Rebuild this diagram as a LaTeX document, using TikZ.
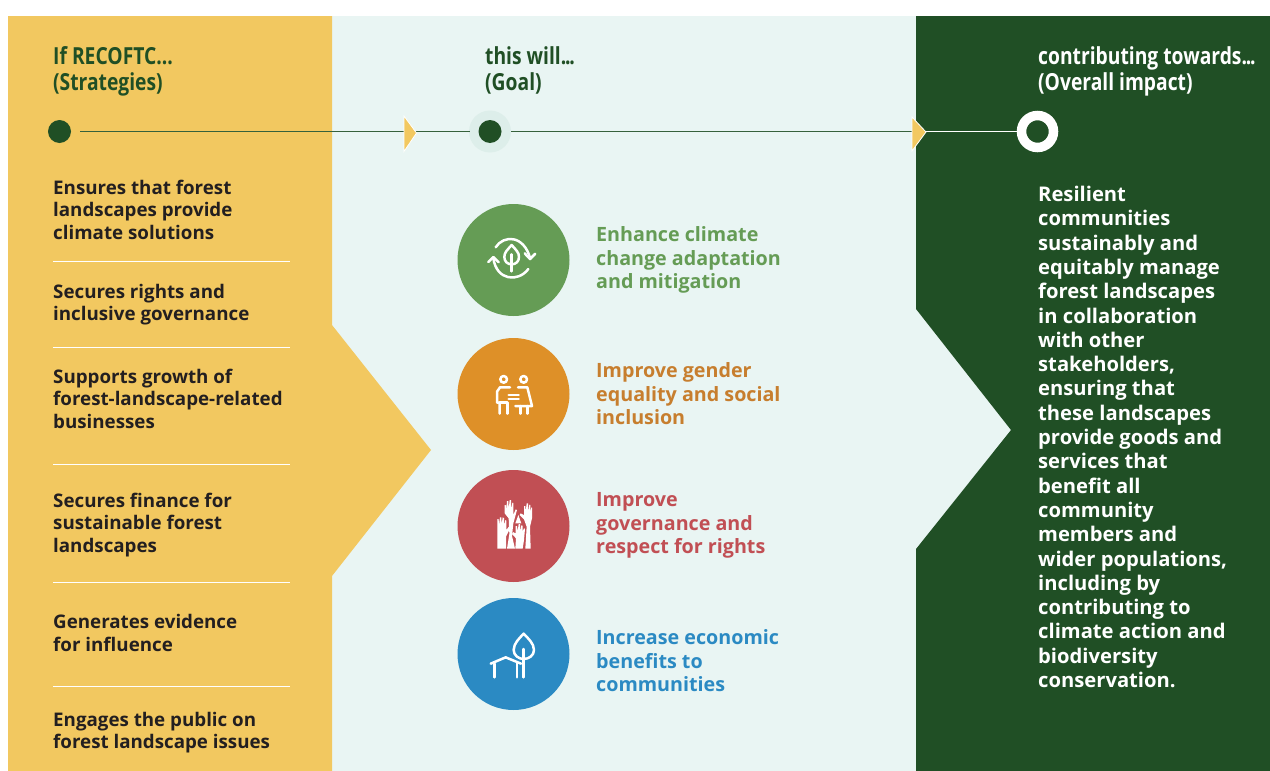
\documentclass[tikz,border=0pt]{standalone}
\usepackage{fontspec}
\setmainfont{Open Sans}
\newfontfamily\condfont{Open Sans}[FakeStretch=0.82]
\usetikzlibrary{calc}
\definecolor{yel}{HTML}{F2C860}
\definecolor{dkg}{HTML}{204F25}
\definecolor{mint}{HTML}{E9F5F3}
\definecolor{halo}{HTML}{DDEEEA}
\definecolor{ink}{HTML}{231F20}
\definecolor{cgreen}{HTML}{659C55}
\definecolor{corange}{HTML}{DE9028}
\definecolor{torange}{HTML}{C77E2E}
\definecolor{cred}{HTML}{C14F54}
\definecolor{cblue}{HTML}{2B8AC3}
\newcommand{\tightdots}{.\kern-1.2pt.\kern-1.2pt.}
\tikzset{
  x=1pt,y=-1pt,
  txt/.style={anchor=north west,inner sep=0pt,align=left},
  header/.style={txt,text=dkg,font=\condfont\bfseries\fontsize{23.5}{25.6}\selectfont},
  strategy/.style={txt,text=ink,font=\bfseries\fontsize{18.75}{22.4}\selectfont},
  goal/.style={txt,font=\bfseries\fontsize{19.7}{23.6}\selectfont},
  impact/.style={txt,text=white,font=\bfseries\fontsize{20.2}{24.3}\selectfont},
  sep/.style={white,line width=1pt},
  disc/.style={circle,inner sep=0pt,minimum size=112pt},
  dot/.style={circle,fill=dkg,inner sep=0pt,minimum size=23pt},
  chev/.style={draw=white,fill=yel,line width=0.8pt,line join=miter},
  ico/.style={white,line width=2.5pt,line cap=round,line join=round},
  hand/.style={fill=white,draw=none},
  rail/.style={dkg!90!white,line width=1.5pt},
}
\begin{document}
\begin{tikzpicture}
\useasboundingbox (0,0) rectangle (1270,771);
\fill[white] (0,0) rectangle (1270,771);
% panels
\fill[mint] (332,16) -- (916,16) -- (916,309) -- (1011,430) -- (916,549) -- (916,771) -- (332,771) -- cycle;
\fill[yel] (8,16) -- (332,16) -- (332,325) -- (431,450) -- (332,576) -- (332,771) -- (8,771) -- cycle;
\fill[dkg] (916,16) -- (1270,16) -- (1270,771) -- (916,771) -- (916,549) -- (1011,430) -- (916,309) -- cycle;
% headers
\node[header] (h1) at (53,46.8) {If RECOFTC...\\(Strategies)};
\node[header] (h2) at (485,46.8) {this will\tightdots\\(Goal)};
\node[header,text=white] (h3) at (1038,46.8) {contributing towards\tightdots\\(Overall impact)};
% timeline
\fill[halo] (490,131.5) circle (21);
\node[dot] (d1) at (59.5,131.5) {};
\node[dot] (d2) at (490,131.5) {};
\node[circle,draw=white,line width=9.5pt,fill=dkg,inner sep=0pt,minimum size=32pt] (d3) at (1037.5,131.5) {};
\coordinate (t1) at (404,131.5);
\coordinate (t2) at (912,131.5);
\coordinate (a1) at (80,131.5);
\coordinate (a2) at (470,131.5);
\coordinate (a3) at (511,131.5);
\draw[rail] (a1) -- (t1);
\draw[rail] (t1) -- (a2);
\draw[rail] (a3) -- (t2);
\draw[white,line width=1.5pt] (t2) -- (d3.west);
\draw[chev] (404,116) -- (416.5,133) -- (404,151.5) -- cycle;
\draw[chev] (912,117) -- (926,132) -- (912,151) -- cycle;
% strategies
\node[strategy] (s1) at (53,180) {Ensures that forest\\landscapes provide\\climate solutions};
\node[strategy] (s2) at (53,284) {Secures rights and\\inclusive governance};
\node[strategy] (s3) at (53,369) {Supports growth of\\forest-landscape-related\\businesses};
\node[strategy] (s4) at (53,493) {Secures finance for\\sustainable forest\\landscapes};
\node[strategy] (s5) at (53,614.5) {Generates evidence\\for influence};
\node[strategy] (s6) at (53,712) {Engages the public on\\forest landscape issues};
\foreach \y in {261,347,464,582,686} \draw[sep] (53,\y) -- (290,\y);
% goal discs
\node[disc,fill=cgreen] (g1) at (513.5,260) {};
\node[disc,fill=corange] (g2) at (513.5,394) {};
\node[disc,fill=cred] (g3) at (513.5,526) {};
\node[disc,fill=cblue] (g4) at (513.5,654) {};
\node[goal,text=cgreen] (l1) at (596,226.5) {Enhance climate\\change adaptation\\and mitigation};
\node[goal,text=torange] (l2) at (596,362.5) {Improve gender\\equality and social\\inclusion};
\node[goal,text=cred] (l3) at (596,492.5) {Improve\\governance and\\respect for rights};
\node[goal,text=cblue] (l4) at (596,629.5) {Increase economic\\benefits to\\communities};
% impact
\node[impact] (imp) at (1038,186) {Resilient\\communities\\sustainably and\\equitably manage\\forest landscapes\\in collaboration\\with other\\stakeholders,\\ensuring that\\these landscapes\\provide goods and\\services that\\benefit all\\community\\members and\\wider populations,\\including by\\contributing to\\climate action and\\biodiversity\\conservation.};
% icons upper
\begin{scope}[shift={(450,195)},scale=1/3]
  % leaf cycle
  \draw[ico] (185,150) .. controls (172,165) and (163,172) .. (163,186) .. controls (163,200) and (173,208) .. (185,208) .. controls (197,208) and (207,200) .. (207,186) .. controls (207,172) and (198,165) .. (185,150) -- cycle;
  \draw[ico] (185,178) -- (185,229);
  \draw[ico] (137,157) .. controls (160,120) and (222,118) .. (241,192);
  \draw[ico] (224,175) -- (240,192) -- (256,176);
  \draw[ico] (235,222) .. controls (205,262) and (140,258) .. (130,190);
  \draw[ico] (115,201) -- (130,186) -- (146,202);
  % people
  \draw[ico] (161,553) circle (10);
  \draw[ico] (221,553) circle (10);
  \draw[ico] (180,577) -- (150,577) -- (141,590) -- (141,623) -- (149,623) -- (149,656);
  \draw[ico] (149,623) -- (172,623) -- (172,656);
  \draw[ico] (204,577) -- (232,577) -- (246,633) -- (196,633);
  \draw[ico] (211,633) -- (211,656);
  \draw[ico] (232,633) -- (232,656);
  \draw[ico] (176,600) -- (206,600);
  \draw[ico] (176,612) -- (206,612);
\end{scope}
% icons lower
\begin{scope}[shift={(450,460)},scale=1/3]
  % hands
  \fill[hand] (142,266) -- (142,177) -- (146,177) -- (147,196) -- (150,172) -- (154,172) -- (155,194) -- (158,172) -- (162,174) -- (163,196) -- (166,180) -- (169,182) -- (169,210) -- (178,198) -- (183,200) -- (168,230) -- (168,266) -- cycle;
  \fill[hand] (171,266) -- (178,222) -- (176,175) -- (164,160) -- (164,135) -- (168,136) -- (169,150) -- (171,123) -- (175,123) -- (176,148) -- (179,120) -- (183,120) -- (184,148) -- (187,128) -- (190,129) -- (190,165) -- (197,148) -- (201,150) -- (190,190) -- (186,228) -- (195,266) -- cycle;
  \fill[hand] (196,266) -- (198,235) -- (186,222) -- (189,216) -- (197,220) -- (197,198) -- (201,198) -- (203,214) -- (206,192) -- (210,192) -- (211,214) -- (214,196) -- (218,197) -- (218,214) -- (222,205) -- (225,206) -- (222,240) -- (218,266) -- cycle;
  \fill[hand] (226,266) -- (230,200) -- (222,178) -- (209,165) -- (212,160) -- (222,165) -- (222,138) -- (226,138) -- (227,155) -- (230,130) -- (234,130) -- (235,155) -- (238,134) -- (241,135) -- (241,158) -- (244,142) -- (246,143) -- (246,175) -- (240,200) -- (242,266) -- cycle;
  \fill[hand] (205,165) -- (214,190) -- (196,190) -- cycle;
  % house and tree
  \draw[ico] (122,611) -- (167,592) -- (213,611);
  \draw[ico] (133,611) -- (133,652);
  \draw[ico] (201,606) -- (201,652);
  \draw[ico] (221,567) -- (221,652);
  \draw[ico] (221,521) .. controls (208,535) and (191,550) .. (191,570) .. controls (191,586) and (206,597) .. (221,597) .. controls (237,597) and (252,586) .. (252,570) .. controls (252,550) and (234,535) .. (221,521) -- cycle;
\end{scope}
\end{tikzpicture}
\end{document}
